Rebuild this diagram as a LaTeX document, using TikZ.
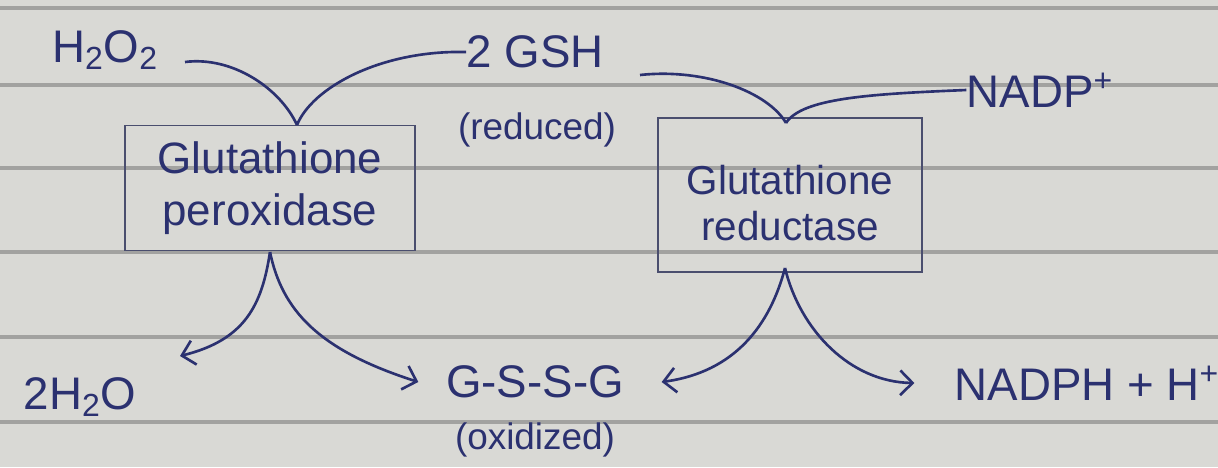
\documentclass[tikz,border=0pt]{standalone}
\usepackage{fontspec}
\setmainfont{Liberation Sans}
\usetikzlibrary{arrows.meta}
\definecolor{paper}{HTML}{D9D9D5}
\definecolor{rule}{HTML}{A2A2A0}
\definecolor{ink}{HTML}{2B3170}
\definecolor{boxink}{HTML}{4A4E6E}
\begin{document}
\begin{tikzpicture}[x=0.02cm,y=-0.02cm,
  lbl/.style={text=ink,font=\fontsize{26}{28}\selectfont,inner sep=0pt},
  sublbl/.style={text=ink,font=\fontsize{21}{24}\selectfont,inner sep=0pt},
  enz/.style={draw=boxink,line width=0.7pt,text=ink,align=center,inner sep=0pt},
  enztext/.style={text=ink,align=center,inner sep=0pt},
  flow/.style={draw=ink,line width=1.5pt},
  tip/.style={flow,-{Straight Barb[length=7pt,width=14pt,line width=1.5pt]}}]
\fill[paper] (0,0) rectangle (1218,467);
\useasboundingbox (0,0) rectangle (1218,467);
\foreach \yy in {8,85,168,252,337,422}
  \draw[rule,line width=2pt] (0,\yy) -- (1218,\yy);

% enzymes
\node[enz,minimum width=5.8cm,minimum height=2.5cm,font=\fontsize{25}{30}\selectfont] (gpx) at (270,188) {Glutathione\\peroxidase};
\node[enz,minimum width=5.28cm,minimum height=3.08cm] (gr) at (790,195) {};
\node[enztext,font=\fontsize{23}{26}\selectfont] (grtext) at (790,203) {Glutathione\\reductase};

% labels
\node[lbl] (h2o2) at (105,50) {H\textsubscript{2}O\textsubscript{2}};
\node[lbl] (gsh) at (535,52) {2 GSH};
\node[sublbl] (red) at (537,130) {(reduced)};
\node[lbl] (nadp) at (1040,90) {NADP\textsuperscript{+}};
\node[lbl] (h2o) at (80,397) {2H\textsubscript{2}O};
\node[lbl] (gssg) at (535,382) {G-S-S-G};
\node[sublbl] (ox) at (535,440) {(oxidized)};
\node[lbl] (nadph) at (1087,383) {NADPH + H\textsuperscript{+}};

% junction points and free ends
\coordinate (s1) at (185,62);
\coordinate (gpxin) at (297,125);
\coordinate (gpxout) at (270,252);
\coordinate (e1) at (180,356);
\coordinate (s2) at (640,75);
\coordinate (grin) at (786,123);
\coordinate (grout) at (785,268);

% glutathione peroxidase
\draw[flow] (s1) .. controls (232,56) and (280,88) .. (gpxin);
\draw[flow] (gpxin) .. controls (312,88) and (380,50) .. (gsh.west);
\draw[tip] (gpxout) .. controls (262,305) and (245,340) .. (e1);
\draw[tip] (gpxout) .. controls (282,310) and (318,350) .. ([xshift=-0.55cm]gssg.west);

% glutathione reductase
\draw[flow] (s2) .. controls (705,68) and (768,92) .. (grin);
\draw[flow] (grin) .. controls (802,98) and (870,94) .. (nadp.west);
\draw[tip] (grout) .. controls (770,325) and (735,372) .. ([xshift=0.75cm]gssg.east);
\draw[tip] (grout) .. controls (800,330) and (850,382) .. ([xshift=-0.8cm]nadph.west);
\end{tikzpicture}
\end{document}
